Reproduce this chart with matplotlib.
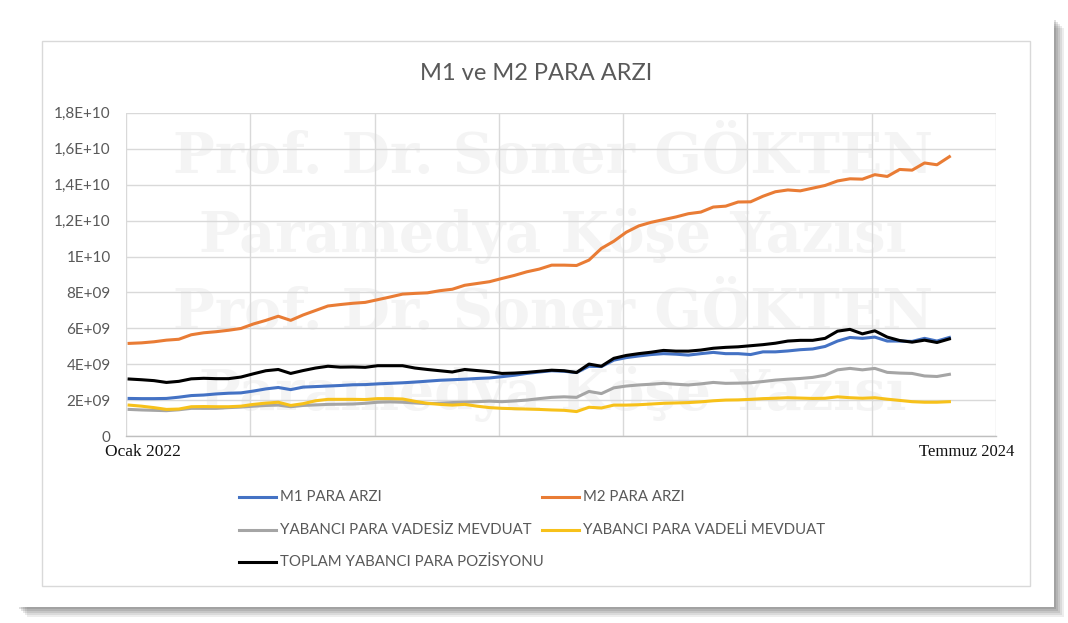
import matplotlib
matplotlib.use("Agg")
import matplotlib.pyplot as plt
from matplotlib.patches import Rectangle
from matplotlib.lines import Line2D
from matplotlib.ticker import FixedLocator, FixedFormatter

# ---------------- data (billions, bi-weekly samples from Jan 2022) ----------------
week = list(range(0, 133, 2))

m1 = [2.11, 2.10, 2.10, 2.11, 2.18, 2.27, 2.30, 2.36, 2.40, 2.42,
      2.52, 2.64, 2.72, 2.60, 2.74, 2.77, 2.80, 2.83, 2.87, 2.88,
      2.92, 2.95, 2.98, 3.02, 3.07, 3.12, 3.15, 3.18, 3.22, 3.25,
      3.32, 3.40, 3.50, 3.58, 3.65, 3.62, 3.55, 3.90, 3.88, 4.24,
      4.38, 4.47, 4.55, 4.60, 4.57, 4.52, 4.60, 4.67, 4.60, 4.60,
      4.55, 4.70, 4.70, 4.75, 4.82, 4.86, 5.00, 5.30, 5.50, 5.45,
      5.52, 5.30, 5.30, 5.28, 5.45, 5.30, 5.50]

m2 = [5.17, 5.20, 5.26, 5.35, 5.40, 5.65, 5.76, 5.82, 5.90, 6.00,
      6.25, 6.45, 6.68, 6.45, 6.75, 7.00, 7.25, 7.33, 7.40, 7.45,
      7.60, 7.75, 7.91, 7.95, 7.98, 8.10, 8.18, 8.40, 8.50, 8.60,
      8.78, 8.95, 9.15, 9.30, 9.52, 9.52, 9.50, 9.80, 10.45, 10.85,
      11.35, 11.70, 11.90, 12.05, 12.20, 12.38, 12.47, 12.75, 12.80, 13.03,
      13.04, 13.35, 13.60, 13.70, 13.65, 13.80, 13.95, 14.20, 14.32, 14.30,
      14.55, 14.45, 14.84, 14.80, 15.20, 15.10, 15.55]

yp_vadesiz = [1.50, 1.47, 1.45, 1.43, 1.48, 1.56, 1.56, 1.56, 1.60, 1.63,
              1.68, 1.72, 1.74, 1.65, 1.72, 1.75, 1.78, 1.79, 1.80, 1.84,
              1.90, 1.92, 1.90, 1.86, 1.82, 1.84, 1.88, 1.90, 1.93, 1.96,
              1.93, 1.97, 2.02, 2.10, 2.17, 2.20, 2.17, 2.50, 2.38, 2.70,
              2.80, 2.86, 2.90, 2.95, 2.90, 2.86, 2.92, 3.00, 2.95, 2.96,
              2.98, 3.05, 3.13, 3.18, 3.22, 3.28, 3.40, 3.70, 3.78, 3.70,
              3.78, 3.56, 3.52, 3.50, 3.36, 3.33, 3.45]

yp_vadeli = [1.74, 1.68, 1.60, 1.50, 1.52, 1.65, 1.66, 1.65, 1.65, 1.68,
             1.78, 1.85, 1.90, 1.72, 1.82, 1.98, 2.06, 2.06, 2.06, 2.05,
             2.10, 2.10, 2.08, 1.95, 1.84, 1.78, 1.74, 1.78, 1.68, 1.60,
             1.56, 1.54, 1.52, 1.50, 1.47, 1.45, 1.38, 1.62, 1.58, 1.74,
             1.74, 1.76, 1.80, 1.84, 1.86, 1.88, 1.92, 1.98, 2.02, 2.03,
             2.06, 2.10, 2.12, 2.15, 2.13, 2.11, 2.12, 2.20, 2.15, 2.12,
             2.15, 2.07, 2.00, 1.93, 1.90, 1.90, 1.93]

toplam_yp = [3.19, 3.15, 3.10, 3.00, 3.06, 3.20, 3.23, 3.21, 3.21, 3.30,
             3.48, 3.65, 3.72, 3.50, 3.66, 3.80, 3.90, 3.85, 3.86, 3.84,
             3.93, 3.93, 3.93, 3.80, 3.72, 3.65, 3.58, 3.72, 3.66, 3.60,
             3.50, 3.52, 3.56, 3.62, 3.68, 3.65, 3.55, 4.02, 3.90, 4.34,
             4.50, 4.60, 4.68, 4.78, 4.74, 4.74, 4.80, 4.90, 4.95, 4.98,
             5.04, 5.10, 5.18, 5.30, 5.34, 5.34, 5.45, 5.85, 5.95, 5.70,
             5.87, 5.52, 5.33, 5.24, 5.35, 5.22, 5.42]

series_names = ["M1 PARA ARZI", "M2 PARA ARZI", "YABANCI PARA VADESİZ MEVDUAT",
                "YABANCI PARA VADELİ MEVDUAT", "TOPLAM YABANCI PARA POZİSYONU"]
series_colors = ["#4472C4", "#E97C35", "#A5A5A5", "#F7C11A", "#000000"]

ytick_vals = [0, 2e9, 4e9, 6e9, 8e9, 1e10, 1.2e10, 1.4e10, 1.6e10, 1.8e10]
ytick_labels = ["0", "2E+09", "4E+09", "6E+09", "8E+09", "1E+10",
                "1,2E+10", "1,4E+10", "1,6E+10", "1,8E+10"]
title = "M1 ve M2 PARA ARZI"
x_start_label = "Ocak 2022"
x_end_label = "Temmuz 2024"
watermark_lines = ["Prof. Dr. Soner GÖKTEN", "Paramedya Köşe Yazısı",
                   "Prof. Dr. Soner GÖKTEN", "Paramedya Köşe Yazısı"]

# ---------------- figure ----------------
W, H = 1068, 623
fig = plt.figure(figsize=(W / 100, H / 100), dpi=100, facecolor="white")

def fx(px):
    return px / W

def fy(py):
    return 1 - py / H

# shadow of the card
for i, a in enumerate([0.10, 0.12, 0.14, 0.16, 0.18]):
    off = 10 - i * 2
    fig.add_artist(Rectangle((fx(17 + off), fy(607 + off)), fx(1037), 589 / H,
                             transform=fig.transFigure, facecolor="#555555",
                             edgecolor="none", alpha=a, zorder=0))
# card
fig.add_artist(Rectangle((fx(17), fy(607)), fx(1037), 589 / H,
                         transform=fig.transFigure, facecolor="white",
                         edgecolor="none", zorder=1))
# inner chart frame
fig.add_artist(Rectangle((fx(42), fy(586)), fx(988), 545 / H,
                         transform=fig.transFigure, facecolor="white",
                         edgecolor="#D9D9D9", linewidth=1.0, zorder=2))

# watermark (very faint)
for txt, yy in zip(watermark_lines, [157, 236, 313, 394]):
    fig.text(fx(553), fy(yy), txt, ha="center", va="center",
             fontsize=40, fontweight="bold", family="DejaVu Serif",
             color="#F4F4F4", zorder=3)

ax = fig.add_axes([fx(126), fy(436.4), fx(870), 323.8 / H], zorder=4)
ax.patch.set_alpha(0)

xs = [w + 0.5 for w in week]
for vals, name, col in zip([m1, m2, yp_vadesiz, yp_vadeli, toplam_yp],
                           series_names, series_colors):
    ax.plot(xs, [v * 1e9 for v in vals], color=col, linewidth=2.2,
            solid_joinstyle="round", label=name)

ax.set_xlim(0, 140)
ax.set_ylim(0, 1.8e10)
ax.xaxis.set_major_locator(FixedLocator(list(range(0, 141, 20))))
ax.set_xticklabels([])
ax.yaxis.set_major_locator(FixedLocator(ytick_vals))
ax.yaxis.set_major_formatter(FixedFormatter(ytick_labels))
ax.tick_params(axis="both", length=0)
ax.tick_params(axis="y", labelsize=11, labelcolor="#595959", pad=11)
for lab in ax.get_yticklabels():
    lab.set_family("Lato")
ax.grid(True, color="#D9D9D9", linewidth=1.0)
ax.set_axisbelow(True)
for s in ["top", "right", "left"]:
    ax.spines[s].set_visible(False)
ax.spines["bottom"].set_color("#BFBFBF")
ax.spines["bottom"].set_linewidth(1.0)

fig.text(fx(536), fy(73), title, ha="center", va="center", fontsize=17,
         family="Lato", color="#595959", zorder=5)

fig.text(fx(105), fy(452), x_start_label, ha="left", va="center", fontsize=12.5,
         family="Liberation Serif", color="#111111", zorder=5)
fig.text(fx(1014), fy(452), x_end_label, ha="right", va="center", fontsize=12,
         family="Liberation Serif", color="#111111", zorder=5)

# legend (Excel style, row-wise)
leg_pos = [(239, 497), (542, 497), (239, 530), (542, 530), (239, 562)]
for (lx, ly), name, col in zip(leg_pos, series_names, series_colors):
    fig.add_artist(Line2D([fx(lx), fx(lx + 37)], [fy(ly), fy(ly)],
                          transform=fig.transFigure, color=col, linewidth=2.2,
                          zorder=5))
    fig.text(fx(lx + 41), fy(ly), name, ha="left", va="center", fontsize=10.8,
             family="Lato", color="#595959", zorder=5)

fig.savefig("out.png", dpi=100, facecolor="white")
